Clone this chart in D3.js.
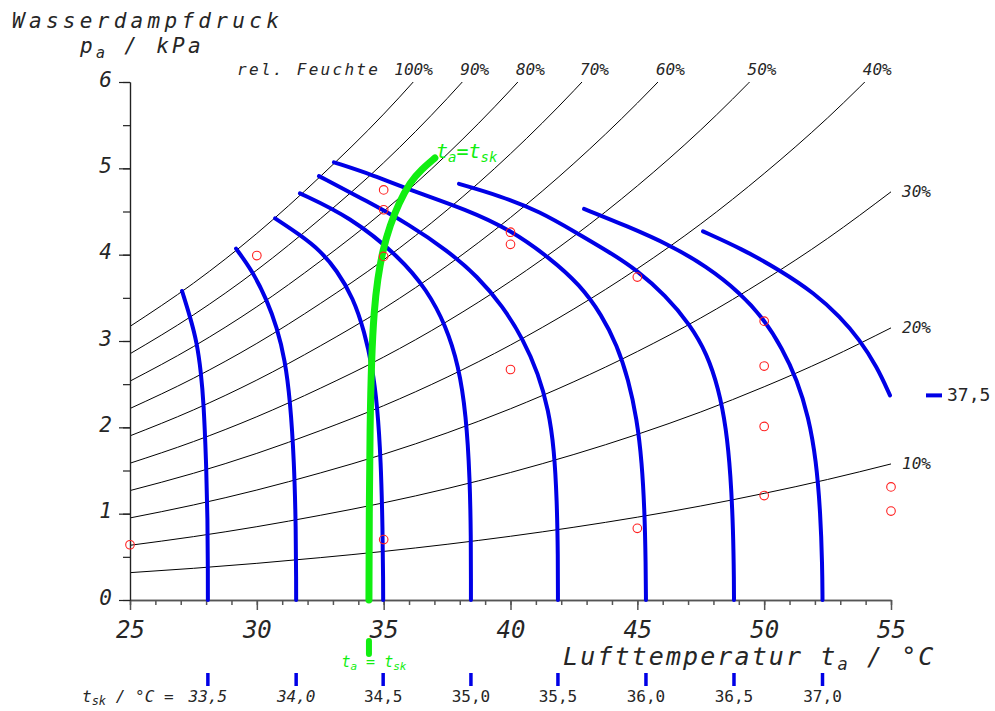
<!DOCTYPE html>
<html><head><meta charset="utf-8">
<script src="https://cdn.jsdelivr.net/npm/d3@7"></script>
<style>
body{margin:0;background:#fff}
text{font-family:"DejaVu Sans Mono",monospace;font-style:italic;fill:#262626}
</style>
</head><body>
<svg id="chart" width="995" height="711"></svg>
<script>
// ---------- data ----------
const satTemps    = [25, 27.5, 30, 32.5, 35, 37.5, 40, 42.5, 45, 47.5, 50, 52.5, 55];       // °C
const satPressure = [3.169, 3.669, 4.246, 4.905, 5.628, 6.453, 7.384, 8.429, 9.593, 10.89, 12.35, 13.96, 15.76]; // kPa
const rhLevels = [100, 90, 80, 70, 60, 50, 40, 30, 20, 10];

const tskLevels = [33.5, 34.0, 34.5, 35.0, 35.5, 36.0, 36.5, 37.0, 37.5];
const tskLabels = ["33,5", "34,0", "34,5", "35,0", "35,5", "36,0", "36,5", "37,0", "37,5"];
const tsk335 = [[27.05,3.58],[27.37,3.28],[27.64,2.98],[27.80,2.63],[27.90,2.30],[28.00,1.62],[28.06,0.93],[28.07,0.3],[28.07,0]];
const tsk340 = [[29.18,4.07],[29.85,3.80],[30.40,3.47],[30.79,3.16],[31.11,2.78],[31.31,2.32],[31.47,1.62],[31.54,0.81],[31.55,0.2],[31.55,0]];
const tsk345 = [[30.72,4.42],[31.70,4.23],[32.49,4.05],[33.15,3.82],[33.80,3.50],[34.25,3.10],[34.55,2.70],[34.75,2.25],[34.89,1.62],[34.96,0.81],[34.98,0.2],[34.98,0]];
const tsk350 = [[31.70,4.71],[33.67,4.44],[35.64,3.97],[36.71,3.59],[37.45,3.18],[37.95,2.72],[38.25,2.15],[38.40,1.40],[38.44,0.70],[38.44,0.2],[38.44,0]];
const tsk355 = [[32.45,4.91],[34.34,4.62],[36.00,4.35],[37.50,4.05],[38.70,3.75],[39.70,3.40],[40.50,3.02],[41.10,2.62],[41.50,2.20],[41.72,1.75],[41.83,1.15],[41.87,0.50],[41.87,0]];
const tsk360 = [[33.04,5.07],[34.60,4.92],[36.04,4.75],[38.29,4.52],[39.98,4.29],[41.56,3.96],[42.74,3.65],[43.60,3.30],[44.20,2.95],[44.65,2.55],[44.98,2.10],[45.18,1.60],[45.29,1.00],[45.33,0.40],[45.34,0]];
const tsk365 = [[37.97,4.82],[39.60,4.68],[41.16,4.50],[42.62,4.25],[43.90,4.03],[44.99,3.82],[46.10,3.53],[47.08,3.19],[47.75,2.85],[48.20,2.45],[48.50,2.00],[48.68,1.45],[48.78,0.80],[48.81,0.2],[48.81,0]];
const tsk370 = [[42.90,4.53],[44.60,4.33],[46.29,4.11],[47.70,3.87],[49.05,3.56],[50.00,3.25],[50.70,2.92],[51.30,2.55],[51.75,2.12],[52.05,1.62],[52.22,1.00],[52.29,0.40],[52.30,0]];
const tsk375 = [[47.59,4.27],[49.10,4.07],[50.62,3.82],[52.00,3.55],[52.99,3.28],[53.75,3.02],[54.45,2.70],[54.96,2.37]];
const tskCurves = [tsk335, tsk340, tsk345, tsk350, tsk355, tsk360, tsk365, tsk370, tsk375];

// ta = tsk line
const neutralCurve = [[34.42,0],[34.43,1.0],[34.46,2.0],[34.52,2.8],[34.62,3.35],[34.76,3.72],[34.97,4.06],[35.25,4.34],[35.60,4.60],[36.04,4.84],[36.50,4.99],[37.02,5.12]];

// measured points (ta °C, pa kPa)
const measuredT = [25, 30, 35, 35, 35, 35, 40, 40, 40, 45, 45, 50, 50, 50, 50, 55, 55];
const measuredP = [0.64, 3.99, 4.75, 4.52, 3.98, 0.70, 4.26, 4.12, 2.67, 3.74, 0.83, 3.23, 2.71, 2.01, 1.21, 1.31, 1.03];

const xMajorTicks = [25, 30, 35, 40, 45, 50, 55];
const xMinorTicks = d3.range(25, 55.5, 1);
const yMajorTicks = [0, 1, 2, 3, 4, 5, 6];
const yMinorTicks = d3.range(0, 6.25, 0.5);

// ---------- drawing ----------
const BLUE = "#0000e6", GREEN = "#11ee11", RED = "#ff2020";
const svg = d3.select("#chart");
const x = d3.scaleLinear().domain([25, 55]).range([130, 891]);
const y = d3.scaleLinear().domain([0, 6]).range([600, 82]);

svg.append("defs").append("clipPath").attr("id", "plotClip")
  .append("rect").attr("x", x(25)).attr("y", y(6)).attr("width", x(55) - x(25) + 2).attr("height", y(0) - y(6));

// RH lines
const rhLine = d3.line().x(d => x(d[0])).y(d => y(d[1])).curve(d3.curveMonotoneX);
const rhG = svg.append("g");
rhLevels.forEach(rh => {
  const pts = satTemps.map((t, i) => [t, satPressure[i] * rh / 100]);
  const path = rhG.append("path").attr("d", rhLine(pts)).attr("fill", "none")
    .attr("stroke", "#000").attr("stroke-width", 1).attr("clip-path", "url(#plotClip)");
  const last = pts[pts.length - 1];
  if (last[1] <= 6) {
    rhG.append("text").attr("x", x(55) + 11).attr("y", y(last[1]) + 5)
      .attr("font-size", 16).text(rh + "%");
  } else {
    const node = path.node(), L = node.getTotalLength();
    let lo = 0, hi = L;
    for (let k = 0; k < 40; k++) {
      const mid = (lo + hi) / 2;
      if (node.getPointAtLength(mid).y > y(6)) lo = mid; else hi = mid;
    }
    const px = node.getPointAtLength(lo).x;
    if (rh === 100) {
      rhG.append("text").attr("x", px - 19).attr("y", 75).attr("font-size", 16).text("100%");
      rhG.append("text").attr("x", px - 33).attr("y", 75).attr("font-size", 16)
        .attr("text-anchor", "end").attr("letter-spacing", 2.3).text("rel. Feuchte");
    } else {
      rhG.append("text").attr("x", px - 2).attr("y", 75).attr("font-size", 16).text(rh + "%");
    }
  }
});

// axes
const xMinor = svg.append("g").attr("transform", "translate(0,600)")
  .call(d3.axisBottom(x).tickValues(xMinorTicks).tickSize(5).tickFormat("").tickSizeOuter(0));
const xMajor = svg.append("g").attr("transform", "translate(0,600)")
  .call(d3.axisBottom(x).tickValues(xMajorTicks).tickSize(10).tickPadding(11).tickSizeOuter(0).tickFormat(d3.format("d")));
[xMinor, xMajor].forEach(g => {
  g.selectAll("path,line").attr("stroke", "#555").attr("stroke-width", 1.5);
});
xMajor.selectAll("text").attr("font-size", 24).attr("font-family", null).style("fill", "#262626");

const yMinor = svg.append("g").attr("transform", "translate(130,0)")
  .call(d3.axisLeft(y).tickValues(yMinorTicks).tickSize(7).tickFormat("").tickSizeOuter(0));
const yMajor = svg.append("g").attr("transform", "translate(130,0)")
  .call(d3.axisLeft(y).tickValues(yMajorTicks).tickSize(11).tickPadding(7).tickSizeOuter(0).tickFormat(d3.format("d")));
[yMinor, yMajor].forEach(g => {
  g.selectAll("path,line").attr("stroke", "#222").attr("stroke-width", 1.2);
});
yMajor.selectAll("text").attr("font-size", 21).attr("font-family", null).attr("dy", "0.2em").style("fill", "#262626");
svg.selectAll(".domain").attr("fill", "none");

// tsk curves
const tskLine = d3.line().x(d => x(d[0])).y(d => y(d[1])).curve(d3.curveBasis);
tskCurves.forEach(c => {
  svg.append("path").attr("d", tskLine(c)).attr("fill", "none")
    .attr("stroke", BLUE).attr("stroke-width", 4).attr("stroke-linecap", "round");
});

// ta = tsk
svg.append("path").attr("d", tskLine(neutralCurve)).attr("fill", "none")
  .attr("stroke", GREEN).attr("stroke-width", 7).attr("stroke-linecap", "round");
const nEnd = neutralCurve[neutralCurve.length - 1];
const gLab = svg.append("text").attr("x", x(nEnd[0]) + 1).attr("y", y(nEnd[1]))
  .attr("font-size", 20).style("fill", GREEN);
gLab.append("tspan").text("t");
gLab.append("tspan").attr("font-size", 14).attr("dy", 4).text("a");
gLab.append("tspan").attr("dy", -4).text("=t");
gLab.append("tspan").attr("font-size", 14).attr("dy", 4).text("sk");

// measured points
svg.append("g").selectAll("circle").data(measuredT).join("circle")
  .attr("cx", d => x(d)).attr("cy", (d, i) => y(measuredP[i])).attr("r", 4.3)
  .attr("fill", "none").attr("stroke", RED).attr("stroke-width", 1.1);

// bottom tsk scale
const bottomG = svg.append("g");
tskCurves.forEach((c, i) => {
  const last = c[c.length - 1];
  if (last[1] === 0) {
    const bx = x(last[0]);
    bottomG.append("line").attr("x1", bx).attr("x2", bx).attr("y1", 673).attr("y2", 686)
      .attr("stroke", BLUE).attr("stroke-width", 3.5);
    bottomG.append("text").attr("x", bx).attr("y", 702).attr("text-anchor", "middle")
      .attr("font-size", 16).style("font-style", i < 2 ? "italic" : "normal").text(tskLabels[i]);
  } else {
    const ey = y(last[1]);
    bottomG.append("line").attr("x1", 926).attr("x2", 942).attr("y1", ey).attr("y2", ey)
      .attr("stroke", BLUE).attr("stroke-width", 4);
    bottomG.append("text").attr("x", 947).attr("y", ey + 6).attr("font-size", 18)
      .style("font-style", "normal").text(tskLabels[i]);
  }
});
const tskTitle = bottomG.append("text").attr("x", 82).attr("y", 702).attr("font-size", 16);
tskTitle.append("tspan").text("t");
tskTitle.append("tspan").attr("font-size", 12).attr("dy", 3).text("sk");
tskTitle.append("tspan").attr("dy", -3).text(" / °C =");

// green tick under axis
const nx = x(neutralCurve[0][0]);
svg.append("line").attr("x1", nx).attr("x2", nx).attr("y1", 641).attr("y2", 654)
  .attr("stroke", GREEN).attr("stroke-width", 6).attr("stroke-linecap", "round");
const gb = svg.append("text").attr("x", nx + 5).attr("y", 667).attr("text-anchor", "middle")
  .attr("font-size", 15).style("fill", GREEN);
gb.append("tspan").text("t");
gb.append("tspan").attr("font-size", 11).attr("dy", 3).text("a");
gb.append("tspan").attr("dy", -3).text(" = t");
gb.append("tspan").attr("font-size", 11).attr("dy", 3).text("sk");

// axis titles
svg.append("text").attr("x", 12).attr("y", 28).attr("font-size", 21).attr("letter-spacing", 4.3)
  .text("Wasserdampfdruck");
const yt = svg.append("text").attr("x", 80).attr("y", 53).attr("font-size", 21).attr("letter-spacing", 3.3);
yt.append("tspan").text("p");
yt.append("tspan").attr("font-size", 15).attr("dy", 5).text("a");
yt.append("tspan").attr("dy", -5).text(" / kPa");

const xt = svg.append("text").attr("x", 563).attr("y", 665).attr("font-size", 25).attr("letter-spacing", 2.1);
xt.append("tspan").text("Lufttemperatur t");
xt.append("tspan").attr("font-size", 17).attr("dy", 5).text("a");
xt.append("tspan").attr("dy", -5).text(" / °C");
</script>
</body></html>
